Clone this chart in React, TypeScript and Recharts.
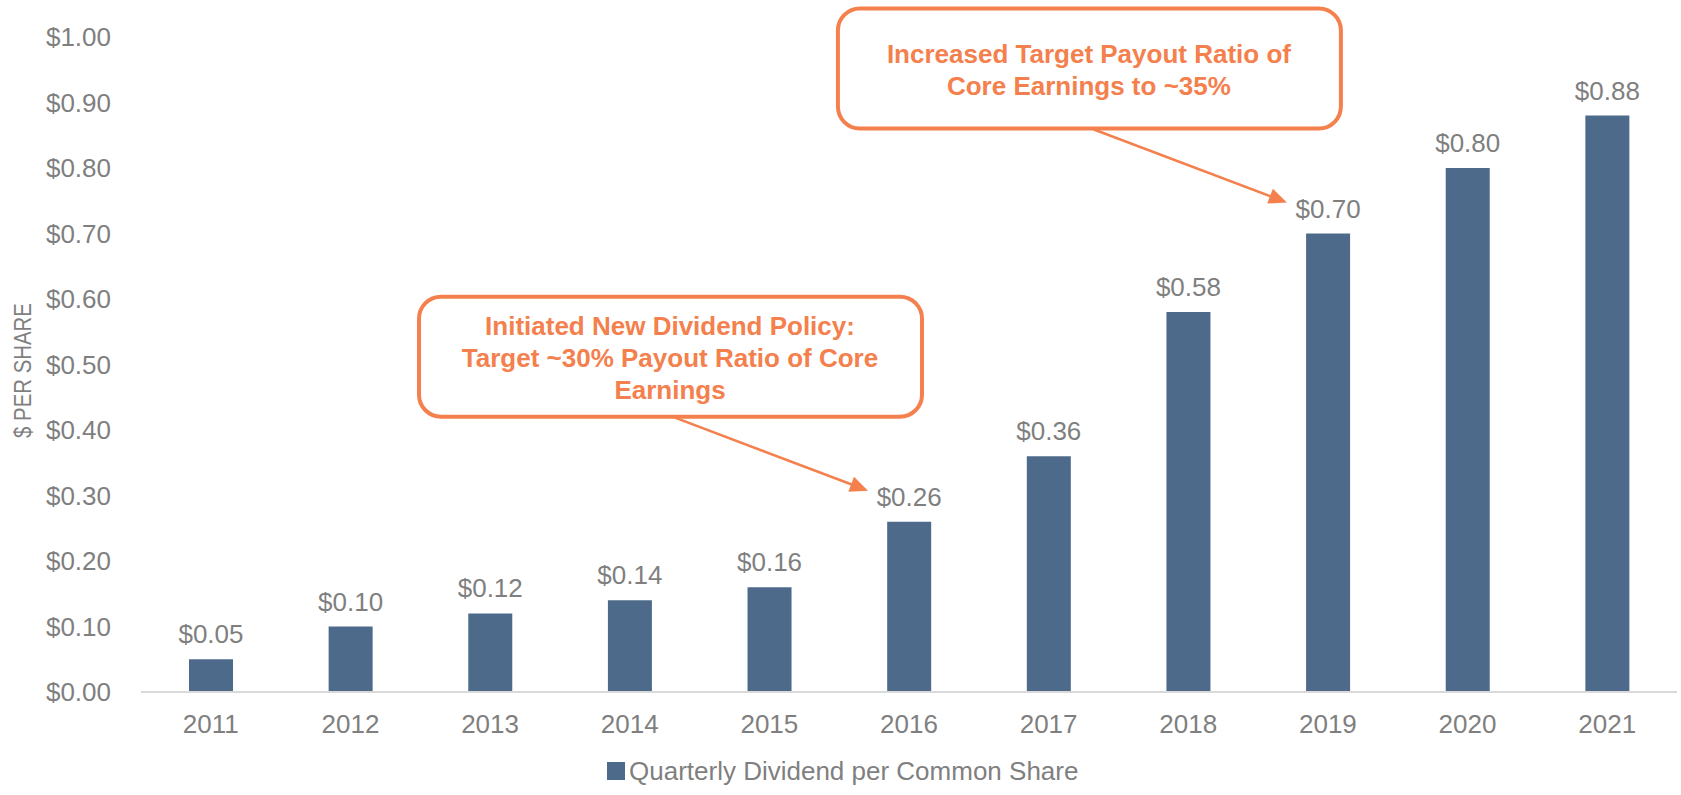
import React from 'react';
import { BarChart, Bar, XAxis, YAxis, LabelList, ReferenceDot, Legend, Label } from 'recharts';

const years = ['2011', '2012', '2013', '2014', '2015', '2016', '2017', '2018', '2019', '2020', '2021'];
const dividends = [0.05, 0.1, 0.12, 0.14, 0.16, 0.26, 0.36, 0.58, 0.7, 0.8, 0.88];
const yTicks = [0, 0.1, 0.2, 0.3, 0.4, 0.5, 0.6, 0.7, 0.8, 0.9, 1.0];
const seriesName = 'Quarterly Dividend per Common Share';
const yAxisTitle = '$ PER SHARE';
const calloutYears = ['2016', '2019'];
const calloutValues = [0.26, 0.7];
const calloutTexts = [
  ['Initiated New Dividend Policy:', 'Target ~30% Payout Ratio of Core', 'Earnings'],
  ['Increased Target Payout Ratio of', 'Core Earnings to ~35%'],
];

const data = years.map((year, i) => ({ year, value: dividends[i] }));

const BAR = '#4E6A8B';
const GRAY = '#7F7F7F';
const ORANGE = '#F4804D';
const FONT = '"Liberation Sans", Arial, sans-serif';

const money = (v: number) => `$${v.toFixed(2)}`;

const makeCallout = (lines: string[]) => (props: any) => {
  const { cx, cy } = props;
  if (cx == null || cy == null) return <g />;
  const boxL = cx - 490;
  const boxR = cx + 13;
  const boxT = cy - 225;
  const boxB = cy - 105;
  const sx = cx - 234;
  const sy = boxB + 1;
  const tx = cx - 41;
  const ty = cy - 31;
  const dx = tx - sx;
  const dy = ty - sy;
  const len = Math.sqrt(dx * dx + dy * dy);
  const ux = dx / len;
  const uy = dy / len;
  const headLen = 18;
  const headW = 8;
  const bx = tx - ux * headLen;
  const by = ty - uy * headLen;
  const nx = -uy;
  const ny = ux;
  const textX = cx - 239;
  const centerY = cy - 164;
  const lh = 32;
  return (
    <g>
      <rect
        x={boxL}
        y={boxT}
        width={boxR - boxL}
        height={boxB - boxT}
        rx={22}
        ry={22}
        fill="#fff"
        stroke={ORANGE}
        strokeWidth={4}
      />
      {lines.map((ln, i) => (
        <text
          key={i}
          x={textX}
          y={centerY + (i - (lines.length - 1) / 2) * lh}
          textAnchor="middle"
          dominantBaseline="central"
          fill={ORANGE}
          fontFamily={FONT}
          fontWeight="bold"
          fontSize={26}
        >
          {ln}
        </text>
      ))}
      <line x1={sx} y1={sy} x2={bx + ux * 2} y2={by + uy * 2} stroke={ORANGE} strokeWidth={2.5} />
      <polygon
        points={`${tx},${ty} ${bx + nx * headW},${by + ny * headW} ${bx - nx * headW},${by - ny * headW}`}
        fill={ORANGE}
      />
    </g>
  );
};

const renderYTitle = (props: any) => {
  const vb = props.viewBox || {};
  const x = (vb.x ?? 0) + 23;
  const y = (vb.y ?? 0) + (vb.height ?? 0) / 2 + 6;
  return (
    <text
      transform={`translate(${x},${y}) rotate(-90) scale(0.85,1)`}
      textAnchor="middle"
      dominantBaseline="central"
      fill={GRAY}
      fontSize={24}
      fontFamily={FONT}
    >
      {yAxisTitle}
    </text>
  );
};

const renderLegend = () => (
  <div style={{ display: 'flex', alignItems: 'center', fontFamily: FONT, whiteSpace: 'nowrap' }}>
    <span style={{ display: 'inline-block', width: 18, height: 18, background: BAR, marginRight: 4 }} />
    <span style={{ fontSize: 26, lineHeight: '30px', color: GRAY }}>{seriesName}</span>
  </div>
);

export default function App() {
  return (
    <div style={{ position: 'absolute', left: 0, top: 0, width: 1681, height: 795, background: '#fff' }}>
      <BarChart
        width={1681}
        height={795}
        data={data}
        margin={{ top: 37, right: 4, bottom: 73, left: 0 }}
        barSize={44}
      >
        <XAxis
          dataKey="year"
          height={30}
          axisLine={{ stroke: '#D9D9D9', strokeWidth: 2 }}
          tickLine={false}
          tickSize={0}
          tickMargin={23}
          tick={{ fill: GRAY, fontSize: 26, fontFamily: FONT }}
          interval={0}
        />
        <YAxis
          width={141}
          domain={[0, 1]}
          ticks={yTicks}
          interval={0}
          axisLine={false}
          tickLine={false}
          tickSize={0}
          tickMargin={30}
          tickFormatter={money}
          tick={{ fill: GRAY, fontSize: 26, fontFamily: FONT }}
        >
          <Label content={renderYTitle} />
        </YAxis>
        <Legend
          verticalAlign="middle"
          align="center"
          layout="horizontal"
          content={renderLegend}
          wrapperStyle={{ top: 756, left: 607, width: 'auto', height: 'auto' }}
        />
        <Bar dataKey="value" name={seriesName} fill={BAR} isAnimationActive={false}>
          <LabelList
            dataKey="value"
            position="top"
            offset={16}
            formatter={(v: any) => money(Number(v))}
            fill={GRAY}
            fontSize={26}
            fontFamily={FONT}
          />
        </Bar>
        {calloutYears.map((yr, i) => (
          <ReferenceDot
            key={yr}
            x={yr}
            y={calloutValues[i]}
            r={0}
            ifOverflow="visible"
            shape={makeCallout(calloutTexts[i])}
          />
        ))}
      </BarChart>
    </div>
  );
}
